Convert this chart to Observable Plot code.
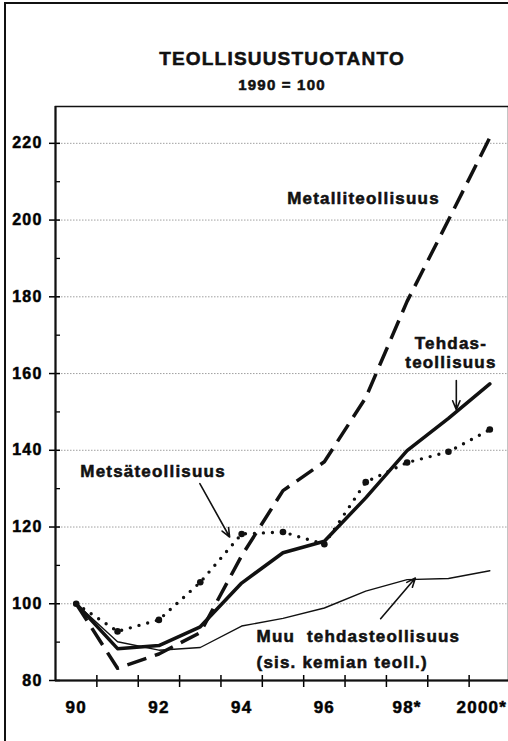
<!DOCTYPE html>
<html>
<head>
<meta charset="utf-8">
<script src="https://cdn.jsdelivr.net/npm/d3@7"></script>
<script src="https://cdn.jsdelivr.net/npm/@observablehq/plot@0.6"></script>
<style>
html, body { margin: 0; padding: 0; background: #fff; }
#wrap { position: relative; width: 508px; height: 741px; overflow: hidden; }
#outer { position: absolute; left: 4px; top: 2px; width: 700px; height: 900px;
  border-left: 2px solid #111; border-top: 2px solid #111; pointer-events: none; }
svg text { white-space: pre; stroke: #111; stroke-width: 0.55px; }
</style>
</head>
<body>
<div id="wrap"><div id="chart"></div><div id="outer"></div></div>
<script>
// ---- Data ----
const years   = [1990, 1991, 1992, 1993, 1994, 1995, 1996, 1997, 1998, 1999, 2000];
const tehdas  = [100, 88.3, 89.1, 94.0, 105.4, 113.3, 116.3, 127.6, 139.9, 148.3, 157.3];
const metalli = [100, 83.2, 86.9, 92.5, 112.5, 129.5, 137.0, 153.7, 178.8, 200.0, 221.5];
const metsa   = [100, 92.8, 95.8, 105.6, 118.2, 118.7, 115.5, 131.7, 136.8, 139.6, 145.4];
const muu     = [100, 90.1, 87.9, 88.6, 94.2, 96.2, 98.9, 103.3, 106.3, 106.6, 108.6];

const yMajor = [80, 100, 120, 140, 160, 180, 200, 220];
const yMinor = [90, 110, 130, 150, 170, 190, 210];
const xTickLabels = ["90", "", "92", "", "94", "", "96", "", "98*", "", "2000*"];

const title = "TEOLLISUUSTUOTANTO";
const subtitle = "1990 = 100";

// annotation labels (data coordinates)
const seriesLabels = [
  {text: "Metalliteollisuus", x: 1995.10, y: 205.7, anchor: "start", lh: 1},
  {text: "Tehdas-\nteollisuus", x: 1999.06, y: 165.4, anchor: "middle", lh: 1.12},
  {text: "Metsäteollisuus", x: 1990.10, y: 134.4, anchor: "start", lh: 1},
  {text: "Muu\u00a0 tehdasteollisuus\n(sis. kemian teoll.)", x: 1994.36, y: 88.9, anchor: "start", lh: 1.53}
];
const arrows = [
  {x1: 1999.19, y1: 158.2, x2: 1999.19, y2: 150.6},
  {x1: 1992.99, y1: 131.3, x2: 1993.71, y2: 117.4},
  {x1: 1997.36, y1: 96.1, x2: 1998.20, y2: 106.7}
];

// ---- build table ----
const rows = years.map((year, i) => ({year, tehdas: tehdas[i], metalli: metalli[i], metsa: metsa[i], muu: muu[i]}));
const xMin = years[0] - 0.5, xMax = years[years.length - 1] + 0.5;
const yMin = yMajor[0], yTop = 229.6;
const boundaries = years.slice(1).map(y => y - 0.5);
const labelled = years.filter((y, i) => xTickLabels[i] !== "");
const lastYear = labelled[labelled.length - 1];
const fmtX = y => xTickLabels[years.indexOf(y)];

const font = "'Liberation Sans', Arial, Helvetica, sans-serif";

const plot = Plot.plot({
  width: 508,
  height: 741,
  marginLeft: 55,
  marginRight: 0,
  marginTop: 106,
  marginBottom: 61,
  style: {fontFamily: font, fontWeight: "bold", letterSpacing: "1.2px", background: "#fff", color: "#000"},
  x: {domain: [xMin, xMax], range: [55, 510], axis: null},
  y: {domain: [yMin, yTop], axis: null},
  marks: [
    Plot.gridY({ticks: yMajor.filter(v => v > yMin), stroke: "#888", strokeOpacity: 1, strokeWidth: 0.8, strokeDasharray: "1.5,1.5"}),
    Plot.frame({stroke: "#111", strokeWidth: 1.5}),
    // y ticks
    Plot.axisY({ticks: yMajor, tickSize: 11, dx: 5, tickFormat: () => "", strokeWidth: 1.5}),
    Plot.axisY({ticks: yMinor, tickSize: 5, dx: 5, tickFormat: () => "", strokeWidth: 1.3}),
    Plot.axisY({ticks: yMajor, tickSize: 0, tickPadding: 13, fontSize: 16, fontWeight: "bold"}),
    // x ticks
    Plot.axisX({ticks: boundaries, tickSize: 12, dy: -5, tickFormat: () => "", strokeWidth: 1.5}),
    Plot.axisX({ticks: labelled.filter(y => y !== lastYear), tickSize: 0, tickPadding: 20, tickFormat: fmtX, fontSize: 17, fontWeight: "bold"}),
    Plot.axisX({ticks: [lastYear], tickSize: 0, tickPadding: 20, dx: -8, tickFormat: fmtX, fontSize: 17, fontWeight: "bold"}),
    // axis lines
    Plot.ruleY([yMin], {stroke: "#111", strokeWidth: 2}),
    Plot.ruleX([xMin], {stroke: "#111", strokeWidth: 2}),
    // series
    Plot.line(rows, {x: "year", y: "muu", stroke: "#111", strokeWidth: 1.4}),
    Plot.line(rows, {x: "year", y: "metalli", stroke: "#111", strokeWidth: 3.5, strokeDasharray: "20 9", strokeLinecap: "butt"}),
    Plot.line(rows, {x: "year", y: "metsa", stroke: "#111", strokeWidth: 3.4, strokeDasharray: "0 9", strokeLinecap: "round"}),
    Plot.dot(rows, {x: "year", y: "metsa", r: 3.3, fill: "#111"}),
    Plot.line(rows, {x: "year", y: "tehdas", stroke: "#111", strokeWidth: 3.5}),
    // annotations
    Plot.arrow(arrows, {x1: "x1", y1: "y1", x2: "x2", y2: "y2", stroke: "#111", strokeWidth: 1.6, headLength: 9, headAngle: 45}),
    ...seriesLabels.map(l => Plot.text([l], {x: "x", y: "y", text: "text", textAnchor: l.anchor, lineHeight: l.lh, fontSize: 17, fontWeight: "bold", fill: "#111"})),
    // title
    Plot.text([title], {frameAnchor: "top", lineAnchor: "middle", dy: -47.5, fontSize: 19, fontWeight: "bold", fill: "#111"}),
    Plot.text([subtitle], {frameAnchor: "top", lineAnchor: "middle", dy: -21.5, fontSize: 15, fontWeight: "bold", fill: "#111"})
  ]
});
document.getElementById("chart").appendChild(plot);
</script>
</body>
</html>
